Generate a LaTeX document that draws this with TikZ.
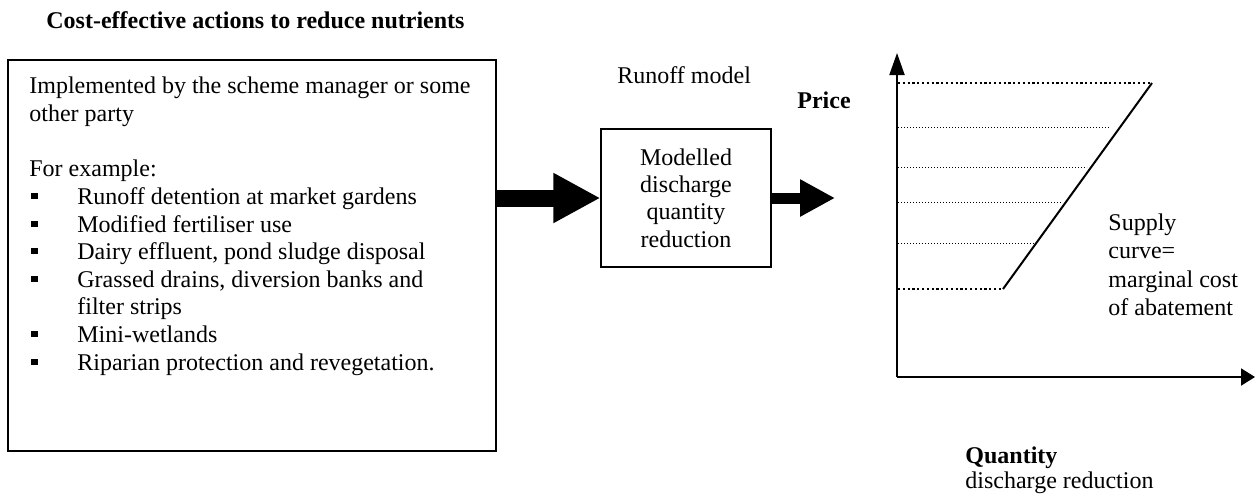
\documentclass[tikz,border=0pt]{standalone}
\usepackage{fontspec}
\setmainfont{Liberation Serif}
\usetikzlibrary{arrows.meta,calc}
\begin{document}
\begin{tikzpicture}[x=0.5pt,y=-0.5pt,
  txt/.style={anchor=base west, inner sep=0pt, font=\fontsize{12}{13.75}\selectfont},
  btxt/.style={txt, font=\fontsize{12}{13.75}\selectfont\bfseries},
  bul/.style={fill=black, inner sep=0pt, minimum size=3.2pt},
  box/.style={draw=black, line width=0.65pt, inner sep=0pt},
  bigarrow/.style={line width=8.5pt, -{Triangle[length=23.5pt,width=23.5pt]}},
  smallarrow/.style={line width=5.5pt, -{Triangle[length=17.5pt,width=17.5pt]}},
  axis/.style={line width=1pt},
  thickdot/.style={line width=1.1pt, dash pattern=on 1.1pt off 1.3pt},
  thindot/.style={line width=0.5pt, dash pattern=on 0.7pt off 0.8pt}
]
\useasboundingbox (0,0) rectangle (1256,495);

% title
\node[btxt] (title) at (46,28) {Cost-effective actions to reduce nutrients};

% left box
\node[box, minimum width=244pt, minimum height=195.5pt] (actions) at (252,255.5) {};
\node[txt] (l1) at (29,93) {Implemented by the scheme manager or some};
\node[txt] (l2) at (29,121) {other party};
\node[txt] (l3) at (29,176) {For example:};
\node[txt] (i1) at (77,204) {Runoff detention at market gardens};
\node[txt] (i2) at (77,232) {Modified fertiliser use};
\node[txt] (i3) at (77,259) {Dairy effluent, pond sludge disposal};
\node[txt] (i4) at (77,287) {Grassed drains, diversion banks and};
\node[txt] (i4b) at (77,314) {filter strips};
\node[txt] (i5) at (77,342) {Mini-wetlands};
\node[txt] (i6) at (77,370) {Riparian protection and revegetation.};
\node[bul] (b1) at (34.5,196) {};
\node[bul] (b2) at (34.5,224) {};
\node[bul] (b3) at (34.5,251) {};
\node[bul] (b4) at (34.5,279) {};
\node[bul] (b5) at (34.5,334) {};
\node[bul] (b6) at (34.5,362) {};

% runoff model
\node[txt] (rm) at (617,83) {Runoff model};
\node[box, minimum width=85pt, minimum height=69pt, align=center,
      font=\fontsize{12}{13.6}\selectfont] (model) at (686,198)
      {Modelled\\discharge\\quantity\\reduction};

% arrows
\draw[bigarrow] (actions.east |- model.west) -- (model.west);
\coordinate (aend) at (835,198);
\draw[smallarrow] (model.east) -- (aend);

% chart
\node[btxt] (price) at (797,108) {Price};
\node[btxt] (qty) at (965,463) {Quantity};
\node[txt] (qty2) at (965,488) {discharge reduction};

\coordinate (O) at (897,377);
\coordinate (ytop) at (897,53);
\coordinate (xend) at (1255,377);
\draw[axis, -{Triangle[length=11pt,width=7.5pt]}] (O) -- (ytop);
\draw[axis, -{Triangle[length=7pt,width=8.5pt]}] (O) -- (xend);

\coordinate (p0) at (1003,289);
\coordinate (p5) at (1152,83);
\draw[line width=1pt] (p0) -- (p5);

\draw[thickdot] (898,83) -- (p5);
\draw[thickdot] (898,289) -- (p0);
\draw[thindot] (898,127) -- (1110,127);
\draw[thindot] (898,167) -- (1087,167);
\draw[thindot] (898,202) -- (1062,202);
\draw[thindot] (898,243) -- (1035,243);

\node[txt] (s1) at (1108,230) {Supply};
\node[txt] (s2) at (1108,258) {curve=};
\node[txt] (s3) at (1108,287) {marginal cost};
\node[txt] (s4) at (1108,315) {of abatement};
\end{tikzpicture}
\end{document}
